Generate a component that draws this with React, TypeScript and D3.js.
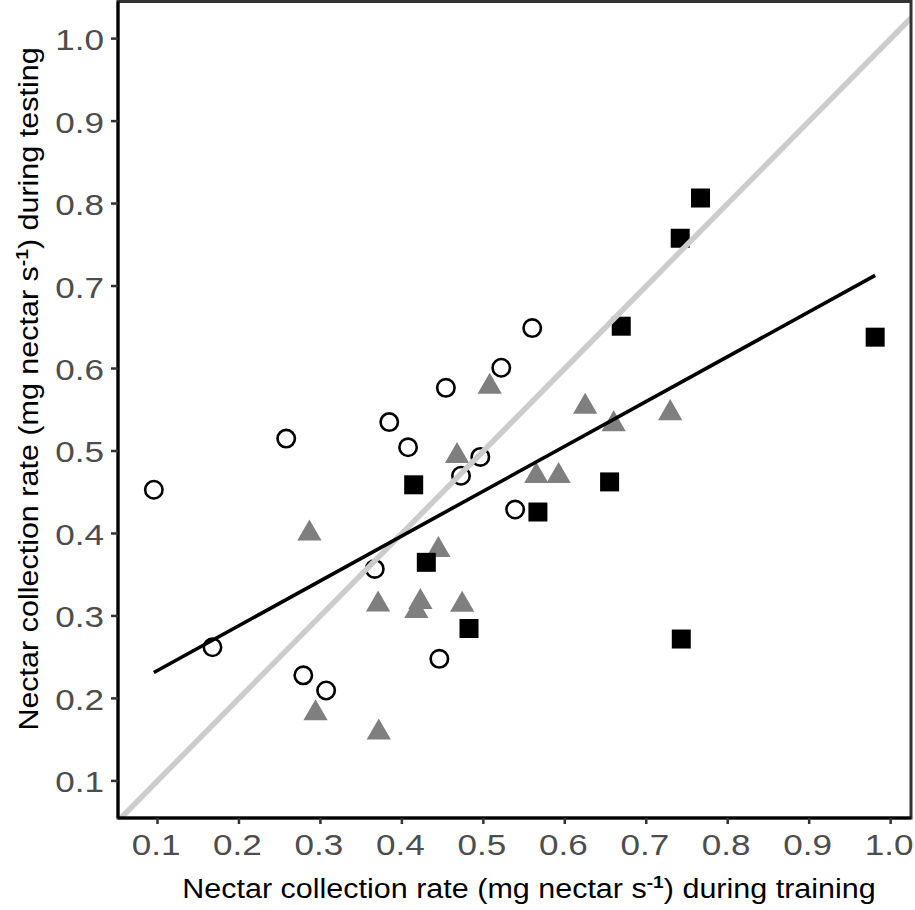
import * as d3 from 'd3';

// open circles
const circleX = [0.0955, 0.258, 0.1675, 0.279, 0.307, 0.3667, 0.3845, 0.4076, 0.454, 0.522, 0.56, 0.4963, 0.4726, 0.539, 0.446];
const circleY = [0.453, 0.515, 0.262, 0.228, 0.2096, 0.357, 0.535, 0.5045, 0.5766, 0.6009, 0.649, 0.4928, 0.47, 0.429, 0.248];

// grey triangles
const triangleX = [0.2865, 0.3708, 0.294, 0.3716, 0.5078, 0.625, 0.4677, 0.565, 0.5924, 0.4448, 0.4227, 0.4178, 0.474, 0.66, 0.7294];
const triangleY = [0.4, 0.314, 0.182, 0.1586, 0.578, 0.5535, 0.494, 0.4697, 0.4697, 0.38, 0.317, 0.306, 0.3136, 0.5324, 0.5459];

// black squares
const squareX = [0.4145, 0.567, 0.43, 0.4824, 0.655, 0.7666, 0.7417, 0.6693, 0.981, 0.743];
const squareY = [0.459, 0.426, 0.365, 0.2848, 0.4625, 0.8067, 0.7578, 0.6513, 0.638, 0.272];

// fitted regression line ends
const fitX = [0.0955, 0.981];
const fitY = [0.2314, 0.7129];

const xTicks = [0.1, 0.2, 0.3, 0.4, 0.5, 0.6, 0.7, 0.8, 0.9, 1.0];
const yTicks = [0.1, 0.2, 0.3, 0.4, 0.5, 0.6, 0.7, 0.8, 0.9, 1.0];

const FONT = 'Liberation Sans, Arial, Helvetica, sans-serif';
// the reference lettering is noticeably wider than Arial at the same height
const TICK_STRETCH = 1.17;
const TITLE_STRETCH = 1.13;

export default function App() {
  const width = 915;
  const height = 910;
  const left = 118, right = 911, top = 1.5, bottom = 818;

  const x = d3.scaleLinear().domain([0.0515, 1.025]).range([left, right]);
  const y = d3.scaleLinear().domain([0.055, 1.045]).range([bottom, top]);

  const tri = d3.symbol(d3.symbolTriangle, 255)();
  const sq = d3.symbol(d3.symbolSquare, 361)();

  const line = d3.line<number>()
    .x((d) => x(d))
    .y((d) => y(d));

  const fitLine = d3.line<number>()
    .x((d) => x(d))
    .y((_, i) => y(fitY[i]));

  const diag = x.domain();

  return (
    <svg
      width={width}
      height={height}
      style={{ position: 'absolute', left: 0, top: 0, background: '#fff' }}
      fontFamily={FONT}
    >
      <defs>
        <clipPath id="panel">
          <rect x={left} y={top} width={right - left} height={bottom - top} />
        </clipPath>
      </defs>

      <g clipPath="url(#panel)">
        {/* points */}
        {circleX.map((cx, i) => (
          <circle key={`c${i}`} cx={x(cx)} cy={y(circleY[i])} r={8.7}
            fill="none" stroke="#000" strokeWidth={2.6} />
        ))}
        {triangleX.map((tx, i) => (
          <path key={`t${i}`} d={tri!} transform={`translate(${x(tx)},${y(triangleY[i])})`}
            fill="#7f7f7f" />
        ))}
        {squareX.map((sx, i) => (
          <path key={`s${i}`} d={sq!} transform={`translate(${x(sx)},${y(squareY[i])})`}
            fill="#000" />
        ))}

        {/* 1:1 line */}
        <path d={line(diag)!} stroke="#cccccc" strokeWidth={5.5} fill="none" />
        {/* regression line */}
        <path d={fitLine(fitX)!} stroke="#000" strokeWidth={3.6} fill="none" />
      </g>

      {/* panel border */}
      <rect x={left} y={top} width={right - left} height={bottom - top}
        fill="none" stroke="#333" strokeWidth={3} />
      <line x1={left} x2={right} y1={bottom} y2={bottom} stroke="#000" strokeWidth={3} />
      <line x1={left} x2={left} y1={top} y2={bottom} stroke="#000" strokeWidth={3} />

      {/* x axis */}
      {xTicks.map((t) => (
        <g key={`xt${t}`}>
          <line x1={x(t)} x2={x(t)} y1={bottom} y2={bottom + 6} stroke="#333" strokeWidth={2.5} />
          <text transform={`translate(${x(t) - 1.5},855) scale(${TICK_STRETCH},1)`}
            textAnchor="middle" fontSize={30} fill="#4d4d4d">
            {t.toFixed(1)}
          </text>
        </g>
      ))}

      {/* y axis */}
      {yTicks.map((t) => (
        <g key={`yt${t}`}>
          <line x1={left - 7} x2={left} y1={y(t)} y2={y(t)} stroke="#333" strokeWidth={2.5} />
          <text transform={`translate(104,${y(t) + 11.5}) scale(${TICK_STRETCH},1)`}
            textAnchor="end" fontSize={30} fill="#4d4d4d">
            {t.toFixed(1)}
          </text>
        </g>
      ))}

      {/* axis titles */}
      <text transform={`translate(529,898) scale(${TITLE_STRETCH},1)`}
        textAnchor="middle" fontSize={27} fill="#000">
        Nectar collection rate (mg nectar s
        <tspan fontSize={17} fontWeight="bold" dy={-10}>-1</tspan>
        <tspan dy={10}>) during training</tspan>
      </text>
      <text transform={`translate(37.5,389) rotate(-90) scale(${TITLE_STRETCH},1)`}
        textAnchor="middle" fontSize={27} fill="#000">
        Nectar collection rate (mg nectar s
        <tspan fontSize={17} fontWeight="bold" dy={-10}>-1</tspan>
        <tspan dy={10}>) during testing</tspan>
      </text>
    </svg>
  );
}
